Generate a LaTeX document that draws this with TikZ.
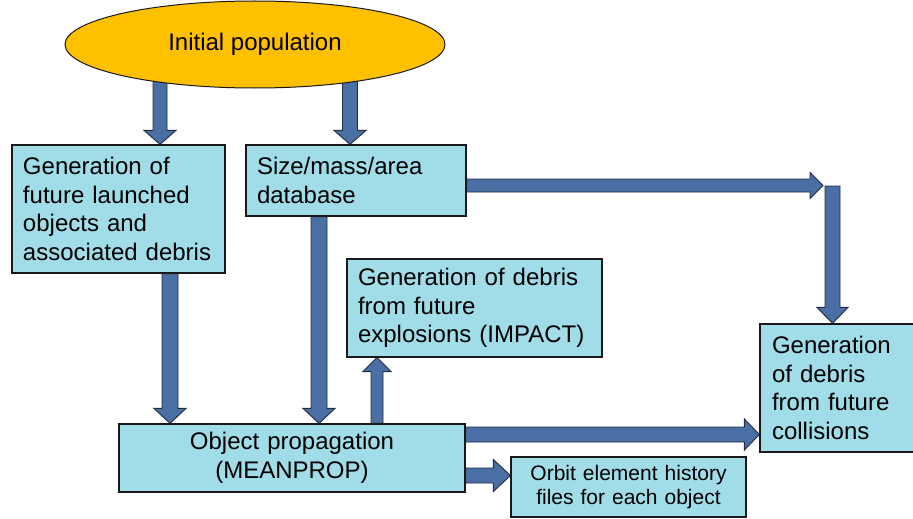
\documentclass[tikz,border=0pt]{standalone}
\usepackage{fontspec}
\setmainfont{Liberation Sans}
\usetikzlibrary{calc,backgrounds,shapes.geometric}
\definecolor{boxfill}{RGB}{160,221,232}
\definecolor{ellfill}{RGB}{255,192,0}
\definecolor{arrfill}{RGB}{74,111,165}
\definecolor{arrline}{RGB}{35,45,65}
\definecolor{edge}{RGB}{25,25,25}
\tikzset{
  box/.style={draw=edge, line width=1.2pt, fill=boxfill, inner xsep=11pt, inner ysep=0pt,
    font=\fontsize{24}{28.7}\selectfont, text=black},
  blockarrow/.style={fill=arrfill, draw=arrline, line width=0.9pt, line join=miter},
}
% #1 shaft half width, #2 head half width, #3 head length, #4 from, #5 to
\newcommand{\barrow}[5]{%
  \path (#4) coordinate (ba) (#5) coordinate (bb);
  \path ($(bb)!#3!(ba)$) coordinate (bh);
  \filldraw[blockarrow] ($(ba)!#1!90:(bb)$) -- ($(bh)!#1!90:(bb)$) -- ($(bh)!#2!90:(bb)$)
    -- (bb) -- ($(bh)!#2!-90:(bb)$) -- ($(bh)!#1!-90:(bb)$) -- ($(ba)!#1!-90:(bb)$) -- cycle;}
\begin{document}
\begin{tikzpicture}[x=1pt,y=-1pt]
\useasboundingbox (0,0) rectangle (913,519);

\node[ellipse, draw=edge, line width=1pt, fill=ellfill, minimum width=380pt, minimum height=87pt,
  inner sep=0pt, font=\fontsize{24}{28.7}\selectfont] (ell) at (255,44.5) {Initial population};

\node[box, align=left, text width=191pt, minimum height=128pt] (box1) at (118.5,209)
  {Generation of\\future launched\\objects and\\associated debris};
\node[box, align=left, text width=198pt, minimum height=71pt] (box2) at (356,180.5)
  {Size/mass/area\\database};
\node[box, align=left, text width=233pt, minimum height=98pt] (box3) at (474.5,308)
  {Generation of debris\\from future\\explosions (IMPACT)};
\node[box, align=left, inner xsep=12pt, text width=132pt, minimum height=128pt] (box4) at (838,388)
  {Generation\\of debris\\from future\\collisions};
\node[box, align=center, text width=324pt, minimum height=68pt] (box5) at (292,458)
  {Object propagation\\(MEANPROP)};
\node[box, align=center, text width=213pt, minimum height=60pt,
  font=\fontsize{21}{24}\selectfont] (box6) at (628.5,487)
  {Orbit element history\\files for each object};

\coordinate (t1) at ([xshift=41.5pt]box1.north);
\coordinate (t2) at ([xshift=-6pt]box2.north);
\coordinate (t3) at ([xshift=51.5pt]box1.south);
\coordinate (t4) at ([xshift=-37pt]box2.south);
\coordinate (t5) at ([xshift=85pt]box5.north);
\coordinate (t6) at ([yshift=-0.5pt]box5.east |- box4.south);
\coordinate (corner) at (823,185.5);
\coordinate (ctop) at (832.5,186);

\begin{scope}[on background layer]
  \barrow{7pt}{16pt}{14pt}{t1 |- ell.center}{t1}
  \barrow{7.5pt}{16pt}{14pt}{t2 |- ell.center}{t2}
  \barrow{8pt}{16pt}{15pt}{t3}{t3 |- box5.north}
  \barrow{8pt}{16pt}{15pt}{t4}{t4 |- box5.north}
  \barrow{6pt}{14pt}{14pt}{t5}{t5 |- box3.south}
  \barrow{7.5pt}{15.5pt}{15pt}{box5.east |- 0,434.5}{box4.west |- 0,434.5}
  \barrow{7.5pt}{16pt}{17pt}{box5.east |- 0,475.5}{box6.west |- 0,475.5}
  \barrow{6.5pt}{13pt}{13pt}{box2.east |- corner}{corner}
  \barrow{7.5pt}{15.5pt}{16pt}{ctop}{ctop |- box4.north}
\end{scope}
\end{tikzpicture}
\end{document}
